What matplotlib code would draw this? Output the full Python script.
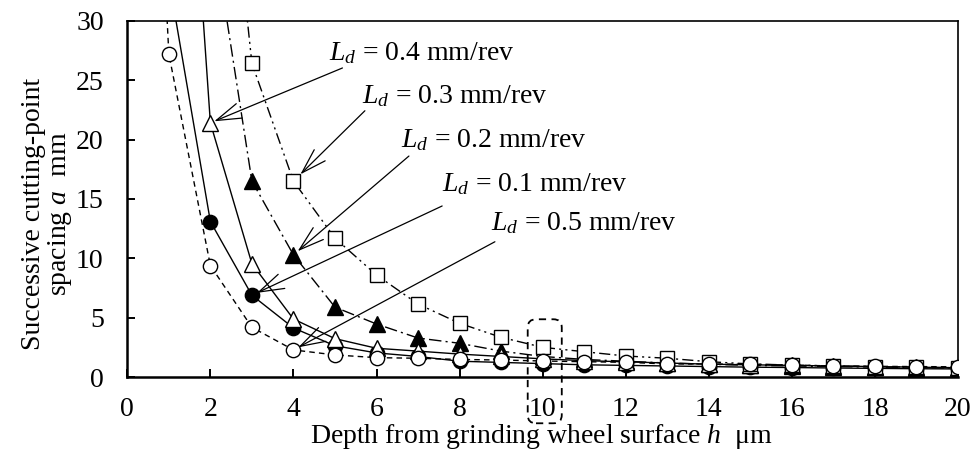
import matplotlib
matplotlib.use("Agg")
import matplotlib.pyplot as plt
from matplotlib.patches import FancyBboxPatch

plt.rcParams['font.family'] = ['Liberation Serif', 'DejaVu Serif']
plt.rcParams['mathtext.fontset'] = 'custom'
plt.rcParams['mathtext.rm'] = 'Liberation Serif'
plt.rcParams['mathtext.it'] = 'Liberation Serif:italic'

# Depth from grinding wheel surface h (um) for each series
h_ld01 = list(range(1, 21))
h_ld02 = list(range(2, 21))
h_ld03 = list(range(2, 21))
h_ld04 = list(range(1, 21))
h_ld05 = list(range(0, 21))

# Successive cutting-point spacing a (mm) for each dressing lead Ld
a_ld01 = [33.5, 13.1, 6.9, 4.15, 2.65, 2.05, 1.75, 1.35, 1.25, 1.15, 1.05, 1.0,
          0.95, 0.9, 0.85, 0.82, 0.78, 0.75, 0.72, 0.7]
a_ld02 = [39.0, 16.5, 10.3, 5.9, 4.48, 3.3, 2.86, 2.2, 1.75, 1.5, 1.35,
          1.2, 1.1, 1.0, 0.95, 0.9, 0.86, 0.82, 0.78]
a_ld03 = [59.5, 26.4, 16.5, 11.7, 8.6, 6.16, 4.54, 3.36, 2.52, 2.15, 1.79,
          1.6, 1.31, 1.12, 1.03, 0.95, 0.9, 0.85, 0.8]
a_ld04 = [72.0, 21.4, 9.55, 4.9, 3.25, 2.44, 2.2, 1.95, 1.75, 1.55, 1.4, 1.3,
          1.2, 1.1, 1.05, 1.0, 0.95, 0.9, 0.85, 0.8]
a_ld05 = [97.0, 27.2, 9.4, 4.2, 2.3, 1.88, 1.65, 1.6, 1.5, 1.45, 1.37, 1.31, 1.26,
          1.12, 1.12, 1.09, 1.03, 0.95, 0.92, 0.9, 0.88]

labels = ['0.4', '0.3', '0.2', '0.1', '0.5']

x_ticks = list(range(0, 21, 2))
y_ticks = list(range(0, 31, 5))

fig = plt.figure(figsize=(9.74, 4.54), dpi=100)
ax = fig.add_axes([0.1307, 0.169, 0.8529, 0.7855])

common = dict(color='black', lw=1.0, markeredgecolor='black', markeredgewidth=1.0)

ax.plot(h_ld01, a_ld01, ls='-', marker='o', ms=10.3,
        markerfacecolor='black', zorder=3, **common)
ax.plot(h_ld02, a_ld02, ls=(0, (9, 3, 1.5, 3)), marker='^',
        ms=11.5, markerfacecolor='black', zorder=4, **common)
ax.plot(h_ld04, a_ld04, ls='-', marker='^', ms=11.5,
        markerfacecolor='white', zorder=5, **common)
ax.plot(h_ld03, a_ld03, ls=(0, (8, 3, 1.5, 3, 1.5, 3)),
        marker='s', ms=10, markerfacecolor='white', zorder=6, **common)
ax.plot(h_ld05, a_ld05, ls=(0, (4, 3)), marker='o', ms=10.3,
        markerfacecolor='white', zorder=7, **common)

ax.set_xlim(0, 20)
ax.set_ylim(0, 30)
ax.set_xticks(x_ticks)
ax.set_yticks(y_ticks)
ax.tick_params(axis='both', direction='in', length=6, width=1.4, labelsize=20,
               top=False, right=False)
ax.tick_params(axis='x', pad=14)
ax.tick_params(axis='y', pad=17)
for side in ['left', 'bottom']:
    ax.spines[side].set_linewidth(1.8)
for side in ['top', 'right']:
    ax.spines[side].set_linewidth(1.2)

ax.set_xlabel(r'Depth from grinding wheel surface $h$  μm', fontsize=20)
ax.xaxis.label.set(ha='center', va='center')
ax.xaxis.set_label_coords(0.498, -0.167)
ax.set_ylabel('Successive cutting-point\n' + r'spacing $a$  mm', fontsize=20,
              multialignment='center', linespacing=1.0)
ax.yaxis.label.set(ha='center', va='center')
ax.yaxis.set_label_coords(-0.096, 0.458)

# callout labels: text anchor, arrow tail, target point
text_pos = [(4.86, 27.3), (5.64, 23.66), (6.6, 19.96), (7.58, 16.26), (8.75, 12.95)]
tail_pos = [(5.18, 26.02), (5.72, 22.42), (6.78, 18.61), (7.58, 14.41), (8.85, 11.4)]
targets = [(h_ld04[1], a_ld04[1]), (h_ld03[2], a_ld03[2]), (h_ld02[2], a_ld02[2]),
           (h_ld01[2], a_ld01[2]), (h_ld05[4], a_ld05[4])]
shrink = [3, 7, 4, 4, 4]

for lab, tp, tl, tg, sh in zip(labels, text_pos, tail_pos, targets, shrink):
    ax.text(tp[0], tp[1], r'$L_d$ = ' + lab + ' mm/rev', fontsize=20,
            ha='left', va='center', zorder=10)
    ax.annotate('', xy=tg, xytext=tl,
                arrowprops=dict(arrowstyle='->,head_length=0.9,head_width=0.28',
                                lw=0.9, color='black', shrinkA=0, shrinkB=sh,
                                mutation_scale=20),
                zorder=9)

# dashed highlight around h = 10
box = FancyBboxPatch((9.64, -3.87), 0.82, 8.75,
                     boxstyle='round,pad=0,rounding_size=0.2',
                     mutation_aspect=3.5, transform=ax.transData,
                     fill=False, ls=(0, (4, 3)), lw=1.3, ec='black',
                     clip_on=False, zorder=8)
ax.add_patch(box)

fig.savefig('out.png', dpi=100)
